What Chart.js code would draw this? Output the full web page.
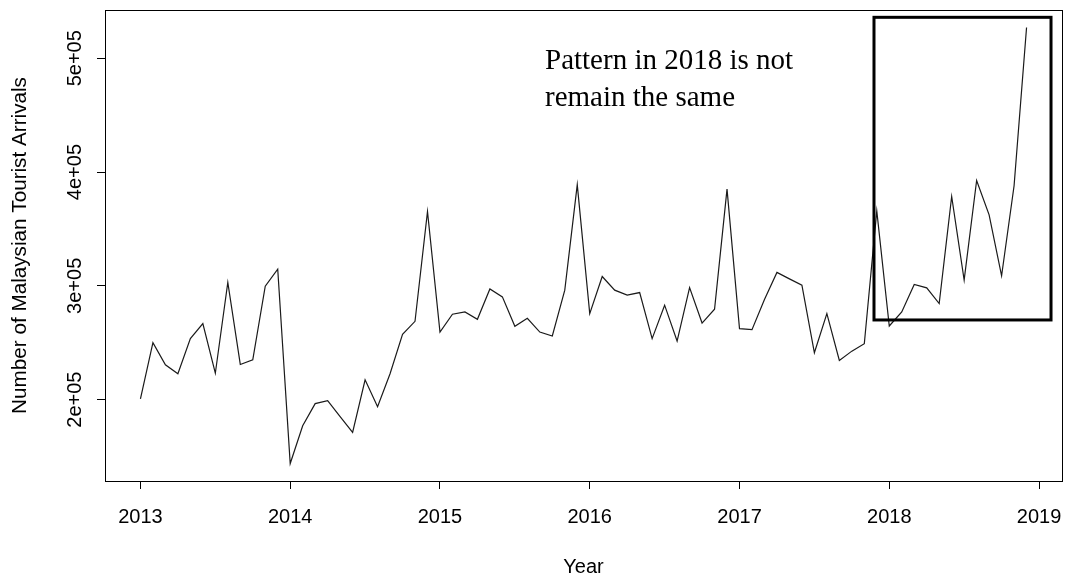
<!DOCTYPE html>
<html>
<head>
<meta charset="utf-8">
<title>Malaysian Tourist Arrivals</title>
<script src="https://cdn.jsdelivr.net/npm/chart.js@4.4.1/dist/chart.umd.min.js"></script>
<style>
  html, body { margin: 0; padding: 0; background: #fff; }
  #wrap { width: 1067px; height: 579px; }
</style>
</head>
<body>
<div id="wrap"><canvas id="arrivals" width="1067" height="579"></canvas></div>
<script>
// monthly arrivals, Jan..Dec of each year
const arrivals2013 = [200600, 250000, 230600, 222700, 253600, 266800, 223200, 303000, 230900, 235000, 299700, 314700];
const arrivals2014 = [143800, 177000, 196500, 199100, 185000, 171200, 217400, 193800, 222700, 257400, 268800, 365300];
const arrivals2015 = [259400, 275000, 277000, 270600, 297300, 290300, 264400, 271500, 259400, 255900, 296200, 388900];
const arrivals2016 = [275600, 308200, 296200, 291800, 294100, 253600, 283000, 251500, 298500, 267300, 279400, 385000];
const arrivals2017 = [262400, 261500, 288000, 311800, 306100, 300600, 241200, 275600, 234400, 242600, 249100, 365900];
const arrivals2018 = [264700, 277000, 301200, 298200, 284400, 378500, 305000, 392600, 362400, 308800, 388000, 527100];

const startYear = 2013;
const xTicks = [2013, 2014, 2015, 2016, 2017, 2018, 2019];
const yTicks = [200000, 300000, 400000, 500000];

const series = [].concat(arrivals2013, arrivals2014, arrivals2015,
                         arrivals2016, arrivals2017, arrivals2018);
const points = series.map((v, i) => ({ x: startYear + i / 12, y: v }));

// axis limits the way base R does it: data range widened by 4% each side
function padRange(lo, hi) {
  const d = (hi - lo) * 0.04;
  return [lo - d, hi + d];
}
const [xMin, xMax] = padRange(points[0].x, points[points.length - 1].x);
const [yMin, yMax] = padRange(Math.min(...series), Math.max(...series));

const SANS = "'Liberation Sans', Arial, sans-serif";
const SERIF = "'Liberation Serif', 'Times New Roman', serif";
const AXIS_FONT = 20;

// 2e+05 style labels
function sci(v) {
  return v.toExponential().replace(/e([+-])(\d)$/, 'e$10$2');
}

const framePlugin = {
  id: 'frame',
  afterDraw(chart) {
    const { ctx, chartArea: a, scales } = chart;
    ctx.save();

    // plot box
    ctx.strokeStyle = '#000';
    ctx.lineWidth = 1;
    ctx.strokeRect(Math.round(a.left) + 0.5, Math.round(a.top) + 0.5,
                   Math.round(a.right - a.left), Math.round(a.bottom - a.top));

    // rotated y tick labels
    ctx.fillStyle = '#000';
    ctx.font = AXIS_FONT + 'px ' + SANS;
    ctx.textAlign = 'center';
    ctx.textBaseline = 'middle';
    scales.y.ticks.forEach(t => {
      const py = scales.y.getPixelForValue(t.value);
      ctx.save();
      ctx.translate(75, py);
      ctx.rotate(-Math.PI / 2);
      ctx.fillText(sci(t.value), 0, 0);
      ctx.restore();
    });

    // highlight box around the last year
    const bx1 = scales.x.getPixelForValue(2017.898);
    const bx2 = scales.x.getPixelForValue(2019.080);
    const by1 = scales.y.getPixelForValue(536000);
    const by2 = scales.y.getPixelForValue(270000);
    ctx.lineWidth = 3;
    ctx.strokeRect(bx1, by1, bx2 - bx1, by2 - by1);

    // note
    ctx.font = '29px ' + SERIF;
    ctx.textAlign = 'left';
    ctx.textBaseline = 'alphabetic';
    ctx.fillText('Pattern in 2018 is not', 545, 69);
    ctx.fillText('remain the same', 545, 106);

    ctx.restore();
  }
};

new Chart(document.getElementById('arrivals'), {
  type: 'line',
  data: {
    datasets: [{
      data: points,
      borderColor: '#1a1a1a',
      borderWidth: 1.2,
      pointRadius: 0,
      tension: 0,
      fill: false
    }]
  },
  options: {
    responsive: false,
    animation: false,
    layout: { padding: { left: 0, top: 10, right: 5, bottom: 0 } },
    plugins: {
      legend: { display: false },
      tooltip: { enabled: false }
    },
    scales: {
      x: {
        type: 'linear',
        min: xMin,
        max: xMax,
        afterBuildTicks: s => { s.ticks = xTicks.map(v => ({ value: v })); },
        afterFit: s => {
          s.height = 98;
          s.paddingLeft = 0;
          s.paddingRight = 0;
        },
        border: { display: false },
        grid: { drawOnChartArea: false, drawTicks: true, tickLength: 8, color: '#000' },
        ticks: {
          color: '#000',
          font: { family: SANS, size: AXIS_FONT },
          padding: 16,
          maxRotation: 0,
          callback: v => String(v)
        },
        title: {
          display: true,
          text: 'Year',
          color: '#000',
          font: { family: SANS, size: AXIS_FONT },
          padding: { top: 0, bottom: 0 }
        }
      },
      y: {
        type: 'linear',
        min: yMin,
        max: yMax,
        afterBuildTicks: s => { s.ticks = yTicks.map(v => ({ value: v })); },
        afterFit: s => {
          s.width = 105;
          s.paddingTop = 0;
          s.paddingBottom = 0;
        },
        border: { display: false },
        grid: { drawOnChartArea: false, drawTicks: true, tickLength: 8, color: '#000' },
        ticks: { display: false },
        title: {
          display: true,
          text: 'Number of Malaysian Tourist Arrivals',
          color: '#000',
          font: { family: SANS, size: 20.7 },
          padding: { top: 8, bottom: 0 }
        }
      }
    }
  },
  plugins: [framePlugin]
});
</script>
</body>
</html>
